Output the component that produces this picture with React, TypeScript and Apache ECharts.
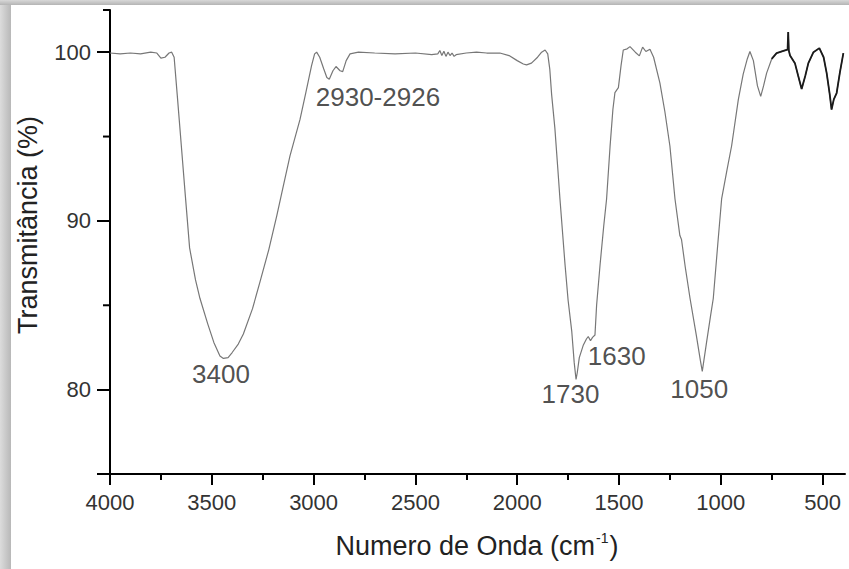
import React, { useEffect, useRef } from "react";
import * as echarts from "echarts";

// Spectrum: [wavenumber (cm-1), transmittance (%)]
const spectrum: [number, number][] = [
  [4000, 99.95], [3950, 99.9], [3900, 99.95], [3850, 99.9], [3800, 100.0], [3770, 99.95],
  [3750, 99.65], [3730, 99.7], [3710, 99.95], [3697, 100.0], [3685, 99.7], [3670, 97.5],
  [3660, 96.0], [3648, 94.2], [3630, 91.5], [3609, 88.4], [3580, 86.5], [3558, 85.4],
  [3520, 83.9], [3490, 82.8], [3460, 82.0], [3443, 81.85], [3420, 81.9], [3400, 82.2],
  [3370, 82.7], [3345, 83.3], [3300, 84.8], [3263, 86.4], [3220, 88.3], [3181, 90.3],
  [3150, 92.0], [3116, 93.85], [3090, 95.0], [3067, 96.0], [3040, 97.5], [3010, 99.2],
  [2995, 99.9], [2985, 100.0], [2970, 99.7], [2950, 99.0], [2935, 98.5], [2923, 98.4],
  [2905, 98.9], [2890, 99.15], [2870, 98.9], [2857, 98.85], [2840, 99.5], [2821, 99.9],
  [2780, 100.0], [2700, 99.95], [2600, 99.9], [2500, 99.95], [2420, 99.85], [2390, 99.9],
  [2380, 100.1], [2370, 99.8], [2360, 100.05], [2350, 99.75], [2340, 100.0], [2330, 99.8],
  [2320, 99.95], [2310, 99.75], [2300, 99.85], [2250, 99.95], [2200, 100.0], [2150, 99.95],
  [2085, 99.95], [2040, 99.8], [2000, 99.5], [1970, 99.3], [1954, 99.25], [1930, 99.35],
  [1900, 99.7], [1880, 100.0], [1863, 100.13], [1850, 99.9], [1840, 99.0], [1831, 97.5],
  [1815, 95.5], [1800, 93.0], [1790, 91.3], [1765, 87.4], [1750, 85.3], [1732, 83.45],
  [1720, 81.6], [1711, 80.6], [1705, 81.0], [1695, 81.9], [1675, 82.65], [1660, 83.0],
  [1651, 83.15], [1640, 82.9], [1630, 83.1], [1618, 83.24], [1610, 85.0], [1593, 87.4],
  [1575, 89.7], [1561, 91.3], [1544, 94.4], [1530, 96.6], [1520, 97.6], [1503, 97.9],
  [1490, 99.2], [1479, 100.13], [1460, 100.2], [1446, 100.33], [1420, 100.0], [1400, 99.78],
  [1384, 100.3], [1368, 100.04], [1348, 100.18], [1330, 99.7], [1299, 98.17], [1275, 96.5],
  [1250, 94.44], [1225, 91.3], [1201, 89.13], [1193, 88.9], [1175, 87.3], [1151, 85.4],
  [1120, 83.2], [1100, 81.7], [1091, 81.08], [1070, 82.8], [1050, 84.4], [1037, 85.4],
  [1015, 88.6], [996, 91.3], [970, 93.0], [947, 94.44], [914, 97.19], [890, 98.7],
  [870, 99.6], [857, 100.04], [840, 99.5], [820, 98.0], [804, 97.38], [790, 98.0],
  [775, 98.76], [750, 99.6], [726, 99.94], [700, 100.05], [677, 100.14], [672, 100.15],
  [669, 101.2], [666, 100.1], [660, 99.8], [636, 99.35], [620, 98.6], [603, 97.82],
  [585, 98.6], [570, 99.35], [545, 100.0], [516, 100.24], [495, 99.7], [480, 98.76],
  [465, 97.5], [456, 96.6], [445, 97.2], [431, 97.58], [415, 98.8], [398, 99.94],
];

// Peak annotations: [wavenumber, transmittance, text]
const annotations: [number, number, string][] = [
  [3455, 80.9, "3400"],
  [2684, 97.32, "2930-2926"],
  [1738, 79.73, "1730"],
  [1511, 82.0, "1630"],
  [1106, 80.03, "1050"],
];

const xMajorTicks = [4000, 3500, 3000, 2500, 2000, 1500, 1000, 500];
const xMinorTicks = [3750, 3250, 2750, 2250, 1750, 1250, 750];
const yMajorTicks = [75, 80, 90, 100];
const yMinorTicks = [85, 95, 102.5];
const yLabels = [80, 90, 100];

const X_MIN = 390;
const X_MAX = 4000;
const Y_MIN = 75;
const Y_MAX = 102.5;

const FONT = "Liberation Sans, Arial, sans-serif";

export default function App() {
  const ref = useRef<HTMLDivElement>(null);

  useEffect(() => {
    if (!ref.current) return;
    const chart = echarts.init(ref.current, undefined, { renderer: "svg" });
    const axisLine = { show: true, lineStyle: { color: "#000", width: 2 } };
    const darkPart = spectrum.filter((p) => p[0] <= 760);

    const baseGraphic: any[] = [
      {
        type: "rect",
        left: 0,
        top: 0,
        shape: { x: 0, y: 0, width: 11, height: 569 },
        style: {
          fill: new echarts.graphic.LinearGradient(0, 0, 1, 0, [
            { offset: 0, color: "#dcdcdc" },
            { offset: 1, color: "#b8b8b8" },
          ]),
        },
        silent: true,
      },
      {
        type: "rect",
        left: 0,
        top: 0,
        shape: { x: 0, y: 0, width: 849, height: 5 },
        style: {
          fill: new echarts.graphic.LinearGradient(0, 0, 0, 1, [
            { offset: 0, color: "#d8d8d8" },
            { offset: 1, color: "#b4b4b4" },
          ]),
        },
        silent: true,
      },
      {
        type: "text",
        x: 28,
        y: 225,
        rotation: Math.PI / 2,
        style: {
          text: "Transmitância (%)",
          fontSize: 27,
          fontFamily: FONT,
          fill: "#222",
          align: "center",
          verticalAlign: "middle",
        },
        silent: true,
      },
      {
        type: "text",
        x: 477,
        y: 546,
        style: {
          text: "{a|Numero de Onda (cm}{s|-1}{a|)}",
          fontFamily: FONT,
          align: "center",
          verticalAlign: "middle",
          rich: {
            a: { fontSize: 27, fontFamily: FONT, fill: "#222", lineHeight: 30 },
            s: {
              fontSize: 14,
              fontFamily: FONT,
              fill: "#222",
              lineHeight: 14,
              verticalAlign: "top",
              padding: [0, 1, 0, 1],
            },
          },
        },
        silent: true,
      },
    ];

    chart.setOption({
      animation: false,
      backgroundColor: "#fff",
      grid: { left: 110, right: 4, top: 10, bottom: 95 },
      xAxis: [
        {
          type: "value",
          min: X_MIN,
          max: X_MAX,
          inverse: true,
          axisLine,
          splitLine: { show: false },
          axisTick: {
            show: true,
            customValues: xMajorTicks,
            length: 11,
            lineStyle: { color: "#000", width: 2 },
          },
          axisLabel: {
            show: true,
            customValues: xMajorTicks,
            formatter: (v: number) => String(v),
            fontSize: 22,
            fontFamily: FONT,
            color: "#333",
            margin: 17,
          },
        },
        {
          type: "value",
          min: X_MIN,
          max: X_MAX,
          inverse: true,
          position: "bottom",
          axisLine: { show: false },
          splitLine: { show: false },
          axisTick: {
            show: true,
            customValues: xMinorTicks,
            length: 6,
            lineStyle: { color: "#000", width: 2 },
          },
          axisLabel: { show: false },
        },
      ],
      yAxis: [
        {
          type: "value",
          min: Y_MIN,
          max: Y_MAX,
          position: "left",
          axisLine,
          splitLine: { show: false },
          axisTick: {
            show: true,
            customValues: yMajorTicks,
            length: 13,
            lineStyle: { color: "#000", width: 2 },
          },
          axisLabel: {
            show: true,
            customValues: yLabels,
            formatter: (v: number) => String(v),
            fontSize: 22,
            fontFamily: FONT,
            color: "#333",
            margin: 19,
          },
        },
      ],
      series: [
        {
          type: "line",
          data: spectrum,
          xAxisIndex: 0,
          yAxisIndex: 0,
          showSymbol: false,
          symbol: "none",
          lineStyle: { color: "#777", width: 1.2 },
          silent: true,
          z: 2,
        },
        {
          type: "line",
          data: darkPart,
          xAxisIndex: 0,
          yAxisIndex: 0,
          showSymbol: false,
          symbol: "none",
          lineStyle: { color: "#1a1a1a", width: 1.8 },
          silent: true,
          z: 3,
        },
        {
          type: "scatter",
          data: annotations,
          xAxisIndex: 0,
          yAxisIndex: 0,
          symbolSize: 0,
          silent: true,
          z: 4,
          label: {
            show: true,
            position: "inside",
            formatter: (p: any) => p.data[2],
            fontSize: 26,
            fontFamily: FONT,
            color: "#222",
          },
        },
      ],
      graphic: baseGraphic,
    });

    // minor ticks of the y axis, positioned through the axis scale
    const tickLines = yMinorTicks.map((v) => {
      const p = chart.convertToPixel({ xAxisIndex: 0, yAxisIndex: 0 }, [X_MAX, v]) as number[];
      return {
        type: "line",
        shape: { x1: p[0] - 7, y1: p[1], x2: p[0], y2: p[1] },
        style: { stroke: "#000", lineWidth: 2 },
        silent: true,
        z: 10,
      };
    });
    chart.setOption({ graphic: [...baseGraphic, ...tickLines] });

    return () => chart.dispose();
  }, []);

  return (
    <div
      ref={ref}
      style={{ position: "absolute", left: 0, top: 0, width: 849, height: 569 }}
    />
  );
}
